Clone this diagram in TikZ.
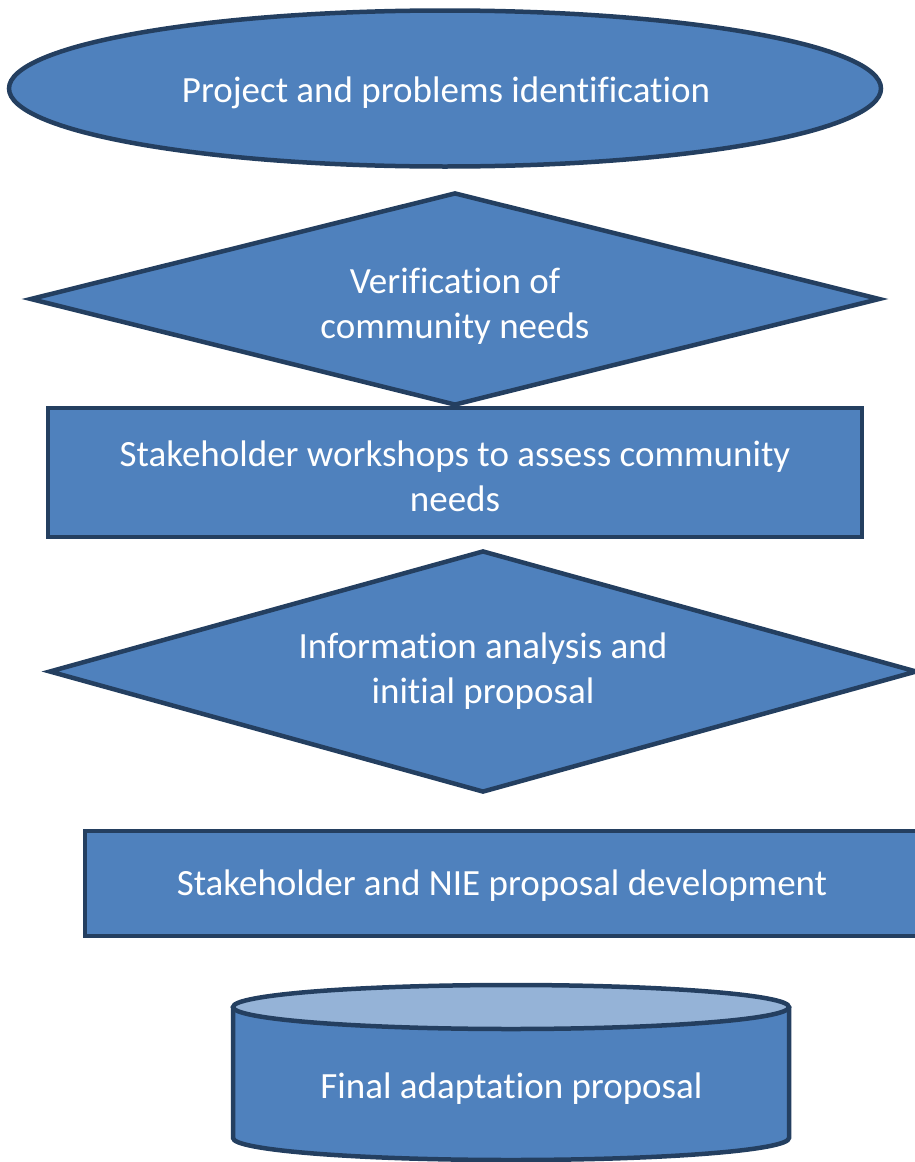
\documentclass[tikz,border=0pt]{standalone}
\usepackage{fontspec}
\setmainfont{Carlito}[Ligatures=CommonOff]
\usetikzlibrary{shapes.geometric}
\definecolor{boxfill}{HTML}{4F81BD}
\definecolor{boxline}{HTML}{243F60}
\definecolor{lidfill}{HTML}{95B3D7}
\begin{document}
\begin{tikzpicture}[x=1pt, y=-1pt]
        \tikzstyle{flow}=[draw=boxline, fill=boxfill, line width=4.5pt,
            inner sep=0pt]
        \tikzstyle{flowtext}=[text=white, inner sep=0pt, align=center,
            font=\fontsize{37}{45}\selectfont]

        \useasboundingbox (0, 0) rectangle (914, 1162);

        % shapes
        \node[flow, ellipse, minimum width=872pt, minimum height=156pt] (ident) at (445, 88.5) {};
        \node[flow, diamond, shape aspect=4, minimum width=850pt, minimum height=213pt] (verify) at (455, 299) {};
        \node[flow, rectangle, minimum width=814pt, minimum height=129pt] (workshop) at (455, 472.5) {};
        \node[flow, diamond, shape aspect=4, minimum width=868pt, minimum height=242pt] (analysis) at (483, 671.5) {};
        \node[flow, rectangle, minimum width=837pt, minimum height=105pt] (develop) at (503.5, 883.5) {};

	\draw[flow, fill=boxfill] (233, 1007) -- (233, 1138)
	    arc[start angle=180, end angle=360, x radius=278pt, y radius=22pt] -- (789, 1007);
	\draw[flow, fill=lidfill] (511, 1007) ellipse (278pt and 22pt);

        % texts
        \node[flowtext] (identtext) at (446, 92.5) {Project and problems identification};
        \node[flowtext] (verifytext) at (455, 306) {Verification of\\community needs};
        \node[flowtext] (workshoptext) at (455, 476) {Stakeholder workshops to assess community\\needs};
        \node[flowtext] (analysistext) at (483, 671) {Information analysis and\\initial proposal};
        \node[flowtext] (developtext) at (502, 885.5) {Stakeholder and NIE proposal development};
        \node[flowtext] (final) at (511.5, 1088.5) {Final adaptation proposal};
    \end{tikzpicture}
\end{document}
